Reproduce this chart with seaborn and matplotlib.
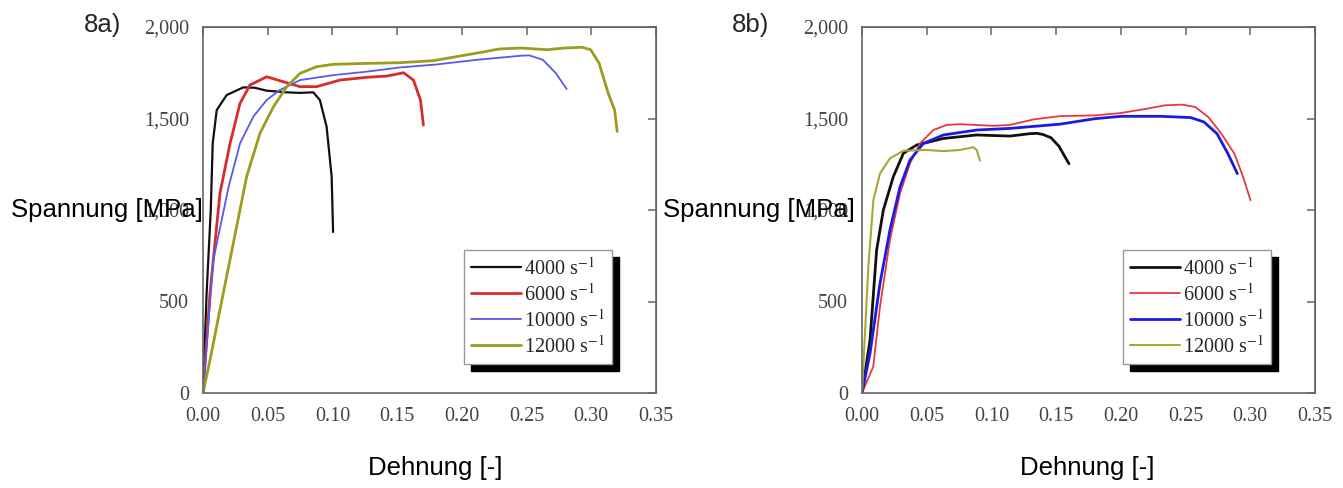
import matplotlib
matplotlib.use("Agg")
import matplotlib.pyplot as plt
import seaborn as sns
import pandas as pd
from matplotlib.ticker import FuncFormatter

# ---------------- data ----------------
rates = ["4000", "6000", "10000", "12000"]

# panel 8a
a_4000_x = [0, 0.0028, 0.006, 0.0075, 0.0106, 0.0183, 0.025, 0.0311, 0.04, 0.0492, 0.0646, 0.075, 0.0852, 0.0903, 0.0955, 0.0994, 0.1005]
a_4000_y = [0, 546, 1000, 1364, 1546, 1628, 1650, 1670, 1668, 1652, 1643, 1640, 1643, 1601, 1455, 1182, 880]
a_6000_x = [0, 0.0054, 0.0131, 0.0209, 0.0286, 0.0363, 0.0492, 0.062, 0.075, 0.0878, 0.1058, 0.1265, 0.142, 0.155, 0.1626, 0.168, 0.1703]
a_6000_y = [0, 545, 1091, 1364, 1583, 1683, 1728, 1701, 1674, 1674, 1710, 1725, 1732, 1750, 1710, 1601, 1464]
a_10000_x = [0, 0.008, 0.0198, 0.0286, 0.0389, 0.0492, 0.0595, 0.075, 0.1007, 0.1265, 0.1523, 0.18, 0.212, 0.2457, 0.252, 0.2625, 0.2726, 0.281]
a_10000_y = [0, 727, 1127, 1364, 1510, 1601, 1656, 1710, 1737, 1756, 1779, 1795, 1821, 1843, 1845, 1821, 1748, 1661]
a_12000_x = [0, 0.0054, 0.0131, 0.0234, 0.0337, 0.044, 0.0544, 0.0647, 0.075, 0.0878, 0.1007, 0.1265, 0.152, 0.178, 0.212, 0.229, 0.2457, 0.266, 0.279, 0.293, 0.2995, 0.306, 0.313, 0.318, 0.32]
a_12000_y = [0, 180, 455, 818, 1182, 1419, 1564, 1674, 1747, 1783, 1796, 1801, 1805, 1816, 1858, 1880, 1885, 1876, 1885, 1889, 1876, 1803, 1639, 1547, 1429]

# panel 8b
b_4000_x = [0, 0.0062, 0.0113, 0.0165, 0.0242, 0.032, 0.0422, 0.0629, 0.0886, 0.1144, 0.1296, 0.135, 0.1397, 0.146, 0.152, 0.1599]
b_4000_y = [0, 290, 781, 1000, 1182, 1310, 1355, 1391, 1410, 1404, 1417, 1419, 1413, 1395, 1350, 1253]
b_6000_x = [0, 0.0087, 0.0139, 0.0216, 0.0294, 0.0371, 0.0448, 0.0551, 0.0655, 0.0757, 0.1015, 0.1144, 0.1325, 0.153, 0.18, 0.2002, 0.2204, 0.234, 0.2474, 0.2575, 0.2676, 0.2777, 0.2877, 0.2945, 0.3002]
b_6000_y = [0, 144, 472, 836, 1091, 1255, 1364, 1437, 1465, 1469, 1460, 1465, 1495, 1513, 1517, 1530, 1554, 1572, 1576, 1563, 1508, 1417, 1308, 1180, 1053]
b_10000_x = [0, 0.0062, 0.0139, 0.0216, 0.0294, 0.0371, 0.0474, 0.0629, 0.0886, 0.1144, 0.153, 0.18, 0.2002, 0.2305, 0.254, 0.2642, 0.2743, 0.2827, 0.29]
b_10000_y = [0, 217, 599, 891, 1127, 1273, 1364, 1410, 1437, 1446, 1469, 1499, 1512, 1512, 1505, 1481, 1417, 1308, 1199]
b_12000_x = [0, 0.0023, 0.0049, 0.0088, 0.0139, 0.0216, 0.032, 0.05, 0.0629, 0.0757, 0.086, 0.0886, 0.0912]
b_12000_y = [0, 326, 690, 1055, 1200, 1282, 1324, 1328, 1322, 1328, 1343, 1328, 1270]

x_ticks = [0.00, 0.05, 0.10, 0.15, 0.20, 0.25, 0.30, 0.35]
y_ticks = [0, 500, 1000, 1500, 2000]
panel_labels = ["8a)", "8b)"]
x_label = "Dehnung [-]"
y_label = "Spannung [MPa]"

# ---------------- style ----------------
sns.set_style("white")
plt.rcParams["font.family"] = ["Liberation Sans", "DejaVu Sans"]
plt.rcParams["mathtext.fontset"] = "stix"
plt.rcParams["lines.solid_joinstyle"] = "round"

fig = plt.figure(figsize=(13.43, 4.88), dpi=100)
ax_a = fig.add_axes([203 / 1343, 95 / 488, 453 / 1343, 366 / 488])
ax_b = fig.add_axes([862 / 1343, 95 / 488, 453 / 1343, 366 / 488])

panels = [
    (ax_a, [(a_4000_x, a_4000_y), (a_6000_x, a_6000_y), (a_10000_x, a_10000_y), (a_12000_x, a_12000_y)],
     ["#111111", "#d92b2b", "#5a5ae6", "#9c9c1e"], [1.6, 2.0, 1.3, 2.0], 0.512, -0.213),
    (ax_b, [(b_4000_x, b_4000_y), (b_6000_x, b_6000_y), (b_10000_x, b_10000_y), (b_12000_x, b_12000_y)],
     ["#111111", "#e63a3a", "#1c1ce0", "#a8a832"], [2.0, 1.3, 2.0, 1.5], 0.497, -0.2285),
]

serif = ["Liberation Serif", "DejaVu Serif"]
spine_col = "#666666"
tick_col = "#444444"

for ax, series, colors, widths, xl_pos, yl_pos in panels:
    for (xs, ys), rate, c, lw in zip(series, rates, colors, widths):
        df = pd.DataFrame({"x": xs, "y": ys})
        sns.lineplot(data=df, x="x", y="y", ax=ax, color=c, linewidth=lw,
                     sort=False, estimator=None, label=rate + r" s$^{-1}$")
    ax.set_xlim(0, 0.35)
    ax.set_ylim(0, 2000)
    ax.set_xticks(x_ticks)
    ax.set_yticks(y_ticks)
    ax.xaxis.set_major_formatter(FuncFormatter(lambda v, p: f"{v:.2f}"))
    ax.yaxis.set_major_formatter(FuncFormatter(lambda v, p: f"{int(round(v)):,}"))
    for s in ax.spines.values():
        s.set_color(spine_col)
        s.set_linewidth(1.2)
    ax.tick_params(axis="both", direction="out", length=5, width=1.1, color=spine_col,
                   labelcolor=tick_col, labelsize=14.5, pad=5)
    for lab in ax.get_xticklabels() + ax.get_yticklabels():
        lab.set_family(serif)
    # inward ticks on top and right
    top = ax.secondary_xaxis("top")
    top.set_xticks(x_ticks)
    top.tick_params(direction="in", length=6, width=1.1, color=spine_col, labeltop=False)
    top.spines["top"].set_color(spine_col)
    right = ax.secondary_yaxis("right")
    right.set_yticks(y_ticks)
    right.tick_params(direction="in", length=6, width=1.1, color=spine_col, labelright=False)
    right.spines["right"].set_color(spine_col)

    ax.set_xlabel(x_label, fontsize=18.5, color="black", va="center")
    ax.xaxis.set_label_coords(xl_pos, -0.205)
    ax.set_ylabel(y_label, fontsize=18.5, rotation=0, ha="center", va="center", color="black")
    ax.yaxis.set_label_coords(yl_pos, 0.5)

    leg = ax.legend(loc="upper left", bbox_to_anchor=(0.576, 0.39), borderaxespad=0,
                    prop={"family": serif, "size": 14.5}, handlelength=2.5, handletextpad=0.15,
                    labelspacing=0.2, borderpad=0.35, fancybox=False, framealpha=1,
                    shadow={"ox": 5, "oy": -5, "color": "black", "alpha": 1})
    leg.get_frame().set_edgecolor("#999999")
    leg.get_frame().set_linewidth(1.0)

fig.text(103 / 1343, 1 - 25 / 488, panel_labels[0], fontsize=18.5, ha="center", va="center")
fig.text(751 / 1343, 1 - 25 / 488, panel_labels[1], fontsize=18.5, ha="center", va="center")

fig.savefig("out.png", dpi=100)
